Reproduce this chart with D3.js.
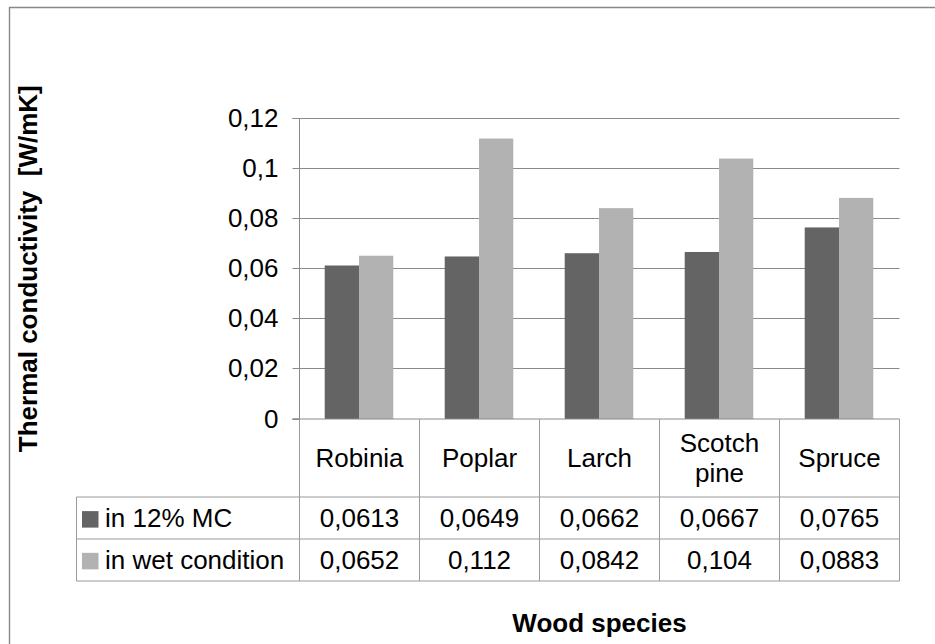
<!DOCTYPE html>
<html>
<head>
<meta charset="utf-8">
<script src="https://cdn.jsdelivr.net/npm/d3@7"></script>
<style>
    body { margin: 0; background: #fff; }
    svg { display: block; font-family: "Liberation Sans", Arial, sans-serif; }
</style>
</head>
<body>
<div id="chart"></div>
<script>
(function() {
    'use strict';

    var categories = ["Robinia", "Poplar", "Larch", "Scotch pine", "Spruce"];
    var seriesNames = ["in 12% MC", "in wet condition"];
    var dryValues = [0.0613, 0.0649, 0.0662, 0.0667, 0.0765];
    var wetValues = [0.0652, 0.112, 0.0842, 0.104, 0.0883];
    var yTicks = [0, 0.02, 0.04, 0.06, 0.08, 0.1, 0.12];
    var colors = ["#646464", "#b2b2b2"];
    var ytitle = "Thermal conductivity  [W/mK]";
    var xtitle = "Wood species";

    function display() {
        var W = 935, H = 644;
        var margin = {top: 118.5, left: 299.5},
            width = 600,
            height = 300.5;
        var rowH = [78, 41.5, 42];          // header row, series rows
        var tableLeft = 76.5;
        var fontSize = 26;

        var seriesValues = [dryValues, wetValues];
        var fmt = function(v) { return String(+v.toFixed(4)).replace(".", ","); };

        var x = d3.scaleBand()
            .domain(categories)
            .range([0, width]);

        var xs = d3.scaleBand()
            .domain(d3.range(seriesNames.length))
            .range([0, x.bandwidth()])
            .paddingInner(0)
            .paddingOuter(0.75);

        var y = d3.scaleLinear()
            .domain([0, d3.max(yTicks)])
            .range([height, 0]);

        var svg = d3.select("#chart").append("svg")
            .attr("width", W)
            .attr("height", H);

        // outer frame
        svg.append("path")
            .attr("d", "M9.5," + H + "V7.5H" + W)
            .attr("fill", "none")
            .attr("stroke", "#888")
            .attr("stroke-width", 1.4);

        var g = svg.append("g")
            .attr("transform", "translate(" + margin.left + "," + margin.top + ")");

        // gridlines
        g.append("g")
            .selectAll("line")
            .data(yTicks.filter(function(d) { return d > 0; }))
            .enter().append("line")
            .attr("x1", 0)
            .attr("x2", width)
            .attr("y1", function(d) { return Math.round(y(d)); })
            .attr("y2", function(d) { return Math.round(y(d)); })
            .attr("stroke", "#8a8a8a")
            .attr("stroke-width", 1);

        // bars
        data_bars(g);

        function data_bars(target) {
            var groups = target.append("g")
                .selectAll("g")
                .data(categories)
                .enter().append("g")
                .attr("transform", function(d) { return "translate(" + (x(d) - 0.5) + ",0)"; });

            groups.selectAll("rect")
                .data(function(d, i) {
                    return seriesValues.map(function(vals, s) { return {s: s, v: vals[i]}; });
                })
                .enter().append("rect")
                .attr("x", function(d) { return xs(d.s); })
                .attr("width", xs.bandwidth())
                .attr("y", function(d) { return y(d.v); })
                .attr("height", function(d) { return height - y(d.v); })
                .style("fill", function(d) { return colors[d.s]; });
        }

        // y axis
        var yAxis = d3.axisLeft(y)
            .tickValues(yTicks)
            .tickSize(7)
            .tickPadding(14)
            .tickFormat(fmt);

        var ya = g.append("g")
            .attr("class", "y-axis")
            .call(yAxis);
        ya.select(".domain").attr("stroke", "#8a8a8a").attr("d", "M-7," + height + "H0V0H-7");
        ya.selectAll(".tick line").attr("stroke", "#8a8a8a");
        ya.selectAll(".tick").attr("transform", function(d) {
            return "translate(0," + Math.round(y(d)) + ")";
        });
        ya.selectAll("text")
            .style("font-size", fontSize + "px")
            .style("font-family", "Liberation Sans, Arial, sans-serif")
            .attr("fill", "#000");

        // data table
        var t = g.append("g")
            .attr("transform", "translate(0," + height + ")");
        var tableTop = 0,
            r1 = rowH[0],
            r2 = r1 + rowH[1],
            r3 = r2 + rowH[2];
        var lineColor = "#9a9a9a";
        var leftX = tableLeft - margin.left;

        var hLines = [
            {y: r1, x1: leftX}, {y: r2, x1: leftX}, {y: r3, x1: leftX}
        ];
        t.selectAll(".hline")
            .data(hLines)
            .enter().append("line")
            .attr("x1", function(d) { return d.x1; })
            .attr("x2", width)
            .attr("y1", function(d) { return Math.round(d.y); })
            .attr("y2", function(d) { return Math.round(d.y); })
            .attr("stroke", lineColor);

        // zero line
        t.append("line")
            .attr("x1", -7).attr("x2", width)
            .attr("y1", 0).attr("y2", 0)
            .attr("stroke", "#8a8a8a");

        var vx = categories.map(function(c) { return x(c); }).concat([width]);
        t.selectAll(".vline")
            .data(vx)
            .enter().append("line")
            .attr("x1", function(d) { return d; })
            .attr("x2", function(d) { return d; })
            .attr("y1", 0)
            .attr("y2", Math.round(r3))
            .attr("stroke", lineColor);

        t.append("line")
            .attr("x1", leftX).attr("x2", leftX)
            .attr("y1", Math.round(r1)).attr("y2", Math.round(r3))
            .attr("stroke", lineColor);

        // category labels (wrapped)
        var header = t.selectAll(".cat")
            .data(categories)
            .enter().append("text")
            .attr("class", "cat")
            .attr("text-anchor", "middle")
            .style("font-size", fontSize + "px")
            .attr("fill", "#000");

        header.each(function(d) {
            var el = d3.select(this);
            var cx = x(d) + x.bandwidth() / 2;
            var words = d.split(" ");
            var lines = [words.shift()];
            words.forEach(function(w) {
                var test = lines[lines.length - 1] + " " + w;
                el.text(test);
                if (this.getComputedTextLength() > x.bandwidth() - 12) {
                    lines.push(w);
                } else {
                    lines[lines.length - 1] = test;
                }
            }, this);
            el.text(null);
            var lh = 30;
            var base = r1 / 2 + 0.36 * fontSize - (lines.length - 1) * lh / 2;
            lines.forEach(function(l, k) {
                el.append("tspan")
                    .attr("x", cx)
                    .attr("y", base + k * lh)
                    .text(l);
            });
        });

        // series rows
        var rowTops = [r1, r2];
        var rowHeights = [rowH[1], rowH[2]];
        seriesNames.forEach(function(name, s) {
            var mid = rowTops[s] + rowHeights[s] / 2;
            var baseline = mid + 0.36 * fontSize;
            t.append("rect")
                .attr("x", leftX + 5.5)
                .attr("y", baseline - 16)
                .attr("width", 16.5)
                .attr("height", 16.5)
                .style("fill", colors[s]);
            t.append("text")
                .attr("x", leftX + 28.5)
                .attr("y", baseline)
                .style("font-size", fontSize + "px")
                .attr("fill", "#000")
                .text(name);
            t.selectAll(".val" + s)
                .data(seriesValues[s])
                .enter().append("text")
                .attr("x", function(d, i) { return x(categories[i]) + x.bandwidth() / 2; })
                .attr("y", baseline)
                .attr("text-anchor", "middle")
                .style("font-size", fontSize + "px")
                .attr("fill", "#000")
                .text(fmt);
        });

        // axis titles
        svg.append("text")
            .attr("transform", "translate(37," + (margin.top + height / 2) + ") rotate(-90)")
            .attr("text-anchor", "middle")
            .style("font-size", fontSize + "px")
            .style("font-weight", "bold")
            .style("white-space", "pre")
            .text(ytitle);

        svg.append("text")
            .attr("x", margin.left + width / 2)
            .attr("y", 632)
            .attr("text-anchor", "middle")
            .style("font-size", fontSize + "px")
            .style("font-weight", "bold")
            .text(xtitle);
    }

    display();
})();
</script>
</body>
</html>
